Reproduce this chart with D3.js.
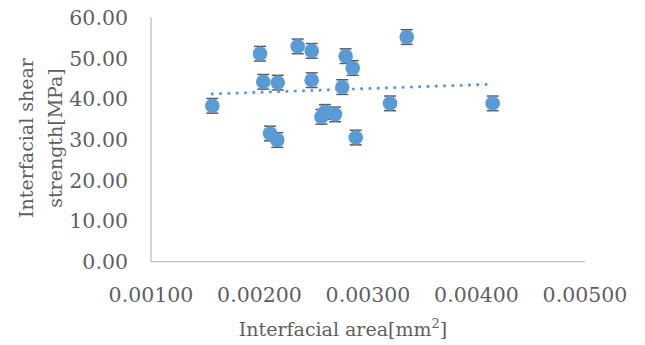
<!DOCTYPE html>
<html><head><meta charset="utf-8">
<script src="https://cdn.jsdelivr.net/npm/d3@7"></script>
<style>
html,body{margin:0;padding:0;background:#fff;}
text{font-family:"DejaVu Serif",serif;fill:#5f5f5f;}
</style></head>
<body>
<svg id="chart" width="645" height="345"></svg>
<script>
// Data
const areas = [0.001565,0.002005,0.002035,0.002168,0.002352,0.002481,0.002481,0.002794,0.002859,0.002763,0.003357,0.003203,0.002571,0.002604,0.002696,0.002097,0.002164,0.002887,0.004149];
const strengths = [38.3,51.1,44.2,44.0,52.9,51.8,44.6,50.5,47.6,42.9,55.2,38.9,35.6,36.8,36.2,31.5,29.9,30.5,38.9];
const errors = [1.8,1.8,1.8,1.8,1.8,1.8,1.8,1.8,1.8,1.8,1.8,1.8,1.8,1.8,1.8,1.8,1.8,1.8,1.8];
const xTicks = [0.001,0.002,0.003,0.004,0.005];
const yTicks = [0,10,20,30,40,50,60];
const xTitle = "Interfacial area[mm";
const yTitleLines = ["Interfacial shear","strength[MPa]"];

const svg = d3.select("#chart");
const x = d3.scaleLinear().domain([0.001,0.005]).range([151,585]);
const y = d3.scaleLinear().domain([0,60]).range([261.7,17.5]);

// axes lines
svg.append("line").attr("x1",x(0.001)).attr("x2",x(0.001)).attr("y1",y(60)).attr("y2",y(0))
  .attr("stroke","#bfbfbf").attr("stroke-width",1.3);
svg.append("line").attr("x1",x(0.001)).attr("x2",x(0.005)).attr("y1",y(0)).attr("y2",y(0))
  .attr("stroke","#bfbfbf").attr("stroke-width",1.3);

// tick labels
svg.append("g").selectAll("text").data(yTicks).join("text")
  .attr("x",128).attr("y",d=>y(d)).attr("dy","0.36em").attr("text-anchor","end")
  .attr("font-size",20.5).text(d=>d.toFixed(2));
svg.append("g").selectAll("text").data(xTicks).join("text")
  .attr("x",d=>x(d)).attr("y",302).attr("text-anchor","middle")
  .attr("font-size",20.5).text(d=>d.toFixed(5));

// titles
const xt = svg.append("text").attr("x",343).attr("y",336).attr("text-anchor","middle").attr("font-size",19);
xt.append("tspan").text(xTitle);
xt.append("tspan").attr("font-size",13).attr("dy",-8).text("2");
xt.append("tspan").attr("dy",8).text("]");

const yt = svg.append("text").attr("transform","translate(33,138) rotate(-90)")
  .attr("text-anchor","middle").attr("font-size",19);
yTitleLines.forEach((l,i)=>{
  yt.append("tspan").attr("x",0).attr("y",i*29).text(l);
});

// trendline (least squares)
const n = areas.length;
const mx = d3.mean(areas), my = d3.mean(strengths);
let sxy=0,sxx=0;
for(let i=0;i<n;i++){sxy+=(areas[i]-mx)*(strengths[i]-my);sxx+=(areas[i]-mx)**2;}
const slope = sxy/sxx, icpt = my - slope*mx;
const x0 = d3.min(areas), x1 = d3.max(areas);

// error bars
const pts = d3.range(n).map(i=>({x:areas[i],y:strengths[i],e:errors[i]}));
const eb = svg.append("g").attr("stroke","#595959").attr("stroke-width",1.5);
pts.forEach(p=>{
  eb.append("line").attr("x1",x(p.x)).attr("x2",x(p.x)).attr("y1",y(p.y-p.e)).attr("y2",y(p.y+p.e));
  eb.append("line").attr("x1",x(p.x)-6).attr("x2",x(p.x)+6).attr("y1",y(p.y-p.e)).attr("y2",y(p.y-p.e));
  eb.append("line").attr("x1",x(p.x)-6).attr("x2",x(p.x)+6).attr("y1",y(p.y+p.e)).attr("y2",y(p.y+p.e));
});

// markers
svg.append("g").selectAll("circle").data(pts).join("circle")
  .attr("cx",d=>x(d.x)).attr("cy",d=>y(d.y)).attr("r",7.3).attr("fill","#5b9bd5");

svg.append("line").attr("x1",x(x0)).attr("x2",x(x1)).attr("y1",y(icpt+slope*x0)).attr("y2",y(icpt+slope*x1))
  .attr("stroke","#5b9bd5").attr("stroke-width",3.2).attr("stroke-linecap","round")
  .attr("stroke-dasharray","0 8.3");
</script>
</body></html>
